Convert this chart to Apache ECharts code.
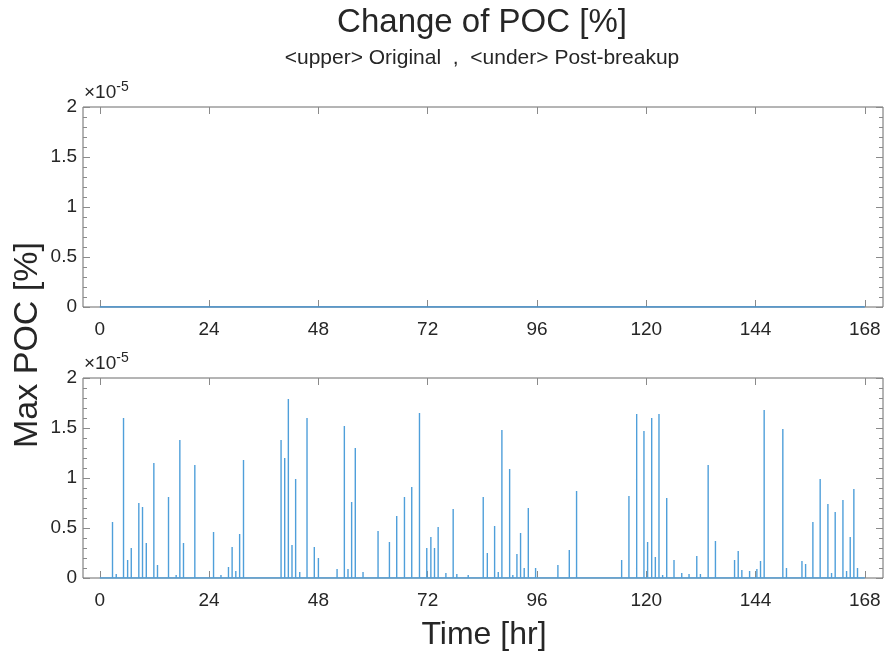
<!DOCTYPE html>
<html><head><meta charset="utf-8">
<script src="https://cdn.jsdelivr.net/npm/echarts@6/dist/echarts.min.js"></script>
<style>html,body{margin:0;padding:0;background:#fff}#c{width:887px;height:656px}</style>
</head><body><div id="c"></div>
<script>
// Time ticks [hr]
const xTicks = [0, 24, 48, 72, 96, 120, 144, 168];
const yTicks = [0, 0.5, 1, 1.5, 2];
// Original: no change over the whole period (values x1e-5)
const origTime = [0, 168];
const origPoc = [0, 0];
// Post-breakup: spike times [hr] and Max POC values (x1e-5 %)
const spikeTime = [2.78,3.6,5.2,6.1,6.9,8.56,9.37,10.2,11.86,12.66,15.08,16.76,17.57,18.37,19.2,20.86,24.97,26.6,28.25,29.05,29.86,30.7,31.55,33.97,
  39.8,40.6,41.4,42.2,43.0,43.9,45.5,47.1,48.0,52.1,53.7,54.5,55.3,56.1,57.8,61.1,63.6,65.2,66.9,68.5,70.2,71.8,72.7,73.5,74.3,76.0,77.6,78.4,80.9,
  84.2,85.1,86.7,87.5,88.3,90.0,90.7,91.6,92.4,93.2,94.1,95.7,100.6,103.1,104.7,114.6,116.2,117.9,119.5,120.3,121.2,122.0,122.8,123.6,124.5,126.1,127.8,129.4,
  131.1,131.9,133.6,135.2,139.4,140.2,141.0,142.7,144.3,145.1,145.9,150.0,150.8,154.2,155.0,156.6,158.2,159.9,160.7,161.5,163.2,164.0,164.8,165.6,166.4];
const spikePoc = [0.56,0.04,1.60,0.18,0.30,0.75,0.71,0.35,1.15,0.13,0.81,0.03,1.38,0.35,0.02,1.13,0.46,0.03,0.11,0.31,0.07,0.44,1.18,0.02,
  1.38,1.20,1.79,0.33,0.99,0.06,1.60,0.31,0.20,0.09,1.52,0.09,0.76,1.30,0.06,0.47,0.36,0.62,0.81,0.91,1.65,0.30,0.41,0.30,0.51,0.05,0.69,0.04,0.03,
  0.81,0.25,0.52,0.06,1.48,1.09,0.03,0.24,0.45,0.10,0.70,0.10,0.13,0.28,0.87,0.18,0.82,1.64,1.47,0.36,1.60,0.21,1.64,0.03,0.80,0.18,0.05,0.04,
  0.22,0.04,1.13,0.37,0.18,0.27,0.08,0.07,0.09,0.17,1.68,1.49,0.10,0.17,0.14,0.56,0.99,0.74,0.05,0.66,0.78,0.07,0.41,0.89,0.10];

const topData = origTime.map((t, i) => [t, origPoc[i]]);
const botData = [[0, 0]];
spikeTime.forEach((t, i) => { botData.push([t, 0], [t, spikePoc[i]], [t, 0]); });
botData.push([168, 0]);

const FONT = 'Liberation Sans';
const TXT = '#262626';
const AX = '#6a6a6a';
const TK = '#8a8a8a';
const grids = [
  {left: 83, right: 4, top: 107, height: 200, show: true, borderColor: AX, borderWidth: 1},
  {left: 83, right: 4, top: 378, height: 200, show: true, borderColor: AX, borderWidth: 1}
];
function xAx(g, pos, labels) {
  return {type: 'value', gridIndex: g, position: pos, min: -3.7, max: 172,
    axisLine: {show: false, onZero: false}, splitLine: {show: false},
    axisTick: {show: true, inside: true, length: 7, customValues: xTicks, lineStyle: {color: TK}},
    axisLabel: {show: labels, customValues: xTicks, margin: 13, fontSize: 19, fontFamily: FONT, color: TXT}};
}
function yAx(g, pos, labels) {
  return {type: 'value', gridIndex: g, position: pos, min: 0, max: 2, interval: 0.5,
    axisLine: {show: false, onZero: false}, splitLine: {show: false},
    axisTick: {show: true, inside: true, length: 7, lineStyle: {color: TK}},
    minorTick: {show: true, splitNumber: 5, length: 4, lineStyle: {color: TK}},
    axisLabel: {show: labels, margin: 6, fontSize: 19, fontFamily: FONT, color: TXT,
      formatter: v => String(v)}};
}
const chart = echarts.init(document.getElementById('c'), null, {renderer: 'canvas'});
const mult = (y) => ({type: 'text', left: 84, top: y, style: {
  text: '×10{s|-5}', font: '19px ' + FONT, fill: TXT,
  rich: {s: {fontSize: 14, fontFamily: FONT, fill: TXT, verticalAlign: 'top', padding: [0,0,11,0]}}}});
chart.setOption({
  animation: false,
  grid: grids,
  xAxis: [xAx(0, 'bottom', true), xAx(0, 'top', false), xAx(1, 'bottom', true), xAx(1, 'top', false)],
  yAxis: [yAx(0, 'left', true), yAx(0, 'right', false), yAx(1, 'left', true), yAx(1, 'right', false)],
  series: [
    {type: 'line', xAxisIndex: 0, yAxisIndex: 0, data: topData, showSymbol: false, lineStyle: {color: '#3d8fd0', width: 1.3}},
    {type: 'line', xAxisIndex: 2, yAxisIndex: 2, data: botData, showSymbol: false, lineStyle: {color: '#4f9fda', width: 1.4}}
  ],
  graphic: [
    {type: 'text', x: 482, y: 23, style: {text: 'Change of POC [%]', font: '33px ' + FONT, fill: TXT, textAlign: 'center', textVerticalAlign: 'middle'}},
    {type: 'text', x: 482, y: 58, style: {text: '<upper> Original  ,  <under> Post-breakup', font: '21px ' + FONT, fill: TXT, textAlign: 'center', textVerticalAlign: 'middle'}},
    {type: 'text', x: 484, y: 635, style: {text: 'Time [hr]', font: '32px ' + FONT, fill: TXT, textAlign: 'center', textVerticalAlign: 'middle'}},
    {type: 'text', x: 28, y: 345, rotation: Math.PI / 2, style: {text: 'Max POC [%]', font: '34px ' + FONT, fill: TXT, textAlign: 'center', textVerticalAlign: 'middle'}},
    mult(80), mult(351)
  ]
});
</script></body></html>
